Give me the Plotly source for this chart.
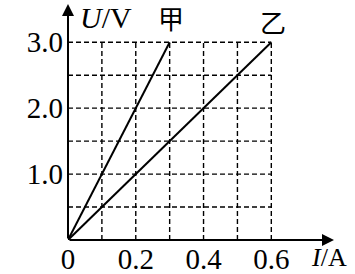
import plotly.graph_objects as go

# Data
series_names = ["甲", "乙"]
current_A = [[0.0, 0.3], [0.0, 0.6]]
voltage_V = [[0.0, 3.0], [0.0, 3.0]]
x_ticks = [0, 0.2, 0.4, 0.6]
x_tick_text = ["0", "0.2", "0.4", "0.6"]
y_ticks = [1.0, 2.0, 3.0]
y_tick_text = ["1.0", "2.0", "3.0"]
x_grid = [0.1, 0.2, 0.3, 0.4, 0.5, 0.6]
y_grid = [0.5, 1.0, 1.5, 2.0, 2.5, 3.0]
x_max, y_max = 0.785, 3.58

W, H = 355, 274
FONT = "Liberation Serif, Times New Roman, serif"

fig = go.Figure()

# dashed grid
for gx in x_grid:
    fig.add_trace(go.Scatter(x=[gx, gx], y=[0, 3.0], mode="lines",
                             line=dict(color="black", width=1.4, dash="5px,3px"),
                             hoverinfo="skip", showlegend=False))
for gy in y_grid:
    fig.add_trace(go.Scatter(x=[0, 0.6], y=[gy, gy], mode="lines",
                             line=dict(color="black", width=1.4, dash="5px,3px"),
                             hoverinfo="skip", showlegend=False))

# data lines
for name, xs, ys in zip(series_names, current_A, voltage_V):
    fig.add_trace(go.Scatter(x=xs, y=ys, mode="lines", name=name,
                             line=dict(color="black", width=2), showlegend=False))

annotations = [
    # axes with arrows
    dict(x=x_max, y=0, ax=0, ay=0, xref="x", yref="y", axref="x", ayref="y",
         showarrow=True, arrowhead=2, arrowsize=1.2, arrowwidth=2, arrowcolor="black", text=""),
    dict(x=0, y=y_max, ax=0, ay=0, xref="x", yref="y", axref="x", ayref="y",
         showarrow=True, arrowhead=2, arrowsize=1.2, arrowwidth=2, arrowcolor="black", text=""),
    dict(x=0.112, y=0.941, xref="x", yref="paper", xanchor="center", yanchor="middle",
         text="<i>U</i>/V", showarrow=False,
         font=dict(family=FONT, size=30, color="black")),
    dict(x=0.771, y=-0.076, xref="x", yref="paper", xanchor="center", yanchor="middle",
         text="<i>I</i>/A", showarrow=False,
         font=dict(family=FONT, size=26, color="black")),
]
label_pos = [(0.305, 3.37), (0.605, 3.32)]
for name, (lx, ly) in zip(series_names, label_pos):
    annotations.append(dict(x=lx, y=ly, xref="x", yref="y", text=name, showarrow=False,
                            xanchor="center", yanchor="middle",
                            font=dict(family="Noto Sans CJK SC", size=26, color="black")))

fig.update_layout(
    width=W, height=H,
    margin=dict(l=68, r=W - 334, t=4, b=H - 240, autoexpand=False),
    paper_bgcolor="white", plot_bgcolor="white",
    annotations=annotations,
    xaxis=dict(range=[0, x_max], showgrid=False, zeroline=False, showline=False,
               automargin=False,
               tickvals=x_ticks, ticktext=x_tick_text, ticks="", ticklabelstandoff=-1,
               tickfont=dict(family=FONT, size=29, color="black")),
    yaxis=dict(range=[0, y_max], showgrid=False, zeroline=False, showline=False,
               automargin=False,
               tickvals=y_ticks, ticktext=y_tick_text, ticks="", ticklabelstandoff=4,
               tickfont=dict(family=FONT, size=29, color="black")),
)

fig.write_html("out.html")
